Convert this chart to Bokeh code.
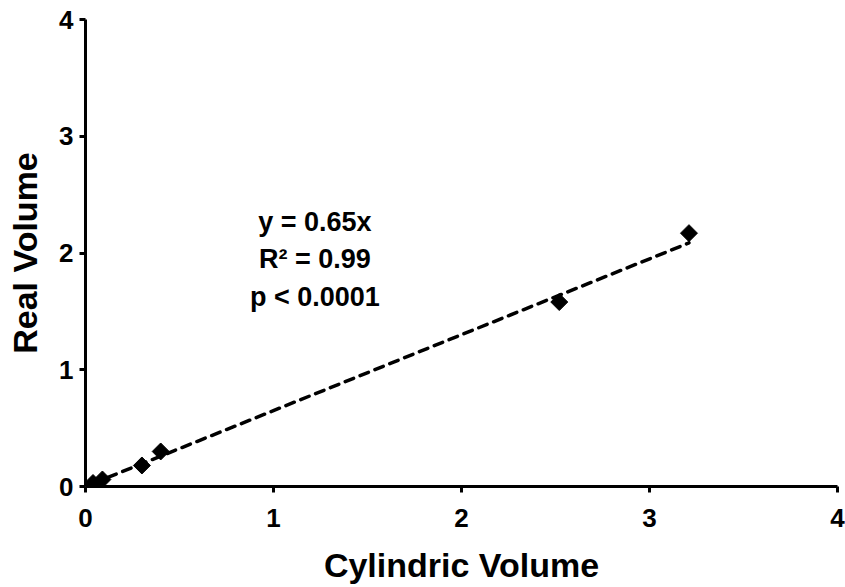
import numpy as np
from bokeh.plotting import figure
from bokeh.models import Range1d, Label, FixedTicker
from bokeh.embed import file_html
from bokeh.resources import INLINE

# data
cylindric_volume = [0.04, 0.09, 0.30, 0.40, 2.52, 3.21]
real_volume = [0.03, 0.06, 0.18, 0.30, 1.58, 2.17]
slope = 0.65
ticks = [0, 1, 2, 3, 4]
annotation_lines = ["y = 0.65x", "R\u00b2 = 0.99", "p < 0.0001"]

FONT = "Liberation Sans"

p = figure(width=845, height=587, output_backend="svg", toolbar_location=None,
           x_range=Range1d(0, 4), y_range=Range1d(0, 4),
           min_border_left=85, min_border_right=8, min_border_top=19, min_border_bottom=101)
p.outline_line_color = None
p.grid.visible = False
p.background_fill_color = "white"
p.border_fill_color = "white"

for ax in (p.xaxis[0], p.yaxis[0]):
    ax.ticker = FixedTicker(ticks=ticks)
    ax.axis_line_width = 3
    ax.axis_line_color = "black"
    ax.major_tick_line_width = 3
    ax.major_tick_out = 6
    ax.major_tick_in = 0
    ax.minor_tick_line_color = None
    ax.major_label_text_font = FONT
    ax.major_label_text_font_style = "bold"
    ax.major_label_text_font_size = "26px"
    ax.major_label_text_color = "black"
    ax.axis_label_text_font = FONT
    ax.axis_label_text_font_style = "bold"
    ax.axis_label_text_font_size = "34px"
    ax.axis_label_text_color = "black"

p.xaxis.axis_label = "Cylindric Volume"
p.yaxis.axis_label = "Real Volume"
p.xaxis.major_label_standoff = 16
p.yaxis.major_label_standoff = 6
p.xaxis.axis_label_standoff = 16
p.yaxis.axis_label_standoff = 12

# regression line
lx = np.array([min(cylindric_volume), max(cylindric_volume)])
ly = slope * lx
p.line(lx, ly, line_color="black", line_width=3.5, line_dash="9 7", line_cap="round")

# points
p.scatter(cylindric_volume, real_volume, marker="square", size=12, angle=np.pi / 4,
          fill_color="black", line_color="black")

# annotation
ann_x = 1.22
ann_y = [2.265, 1.95, 1.62]
for t, yy in zip(annotation_lines, ann_y):
    p.add_layout(Label(x=ann_x, y=yy, text=t, text_align="center", text_baseline="middle",
                       text_font=FONT, text_font_style="bold", text_font_size="27px",
                       text_color="black"))

open("out.html", "w").write(file_html(p, INLINE))
